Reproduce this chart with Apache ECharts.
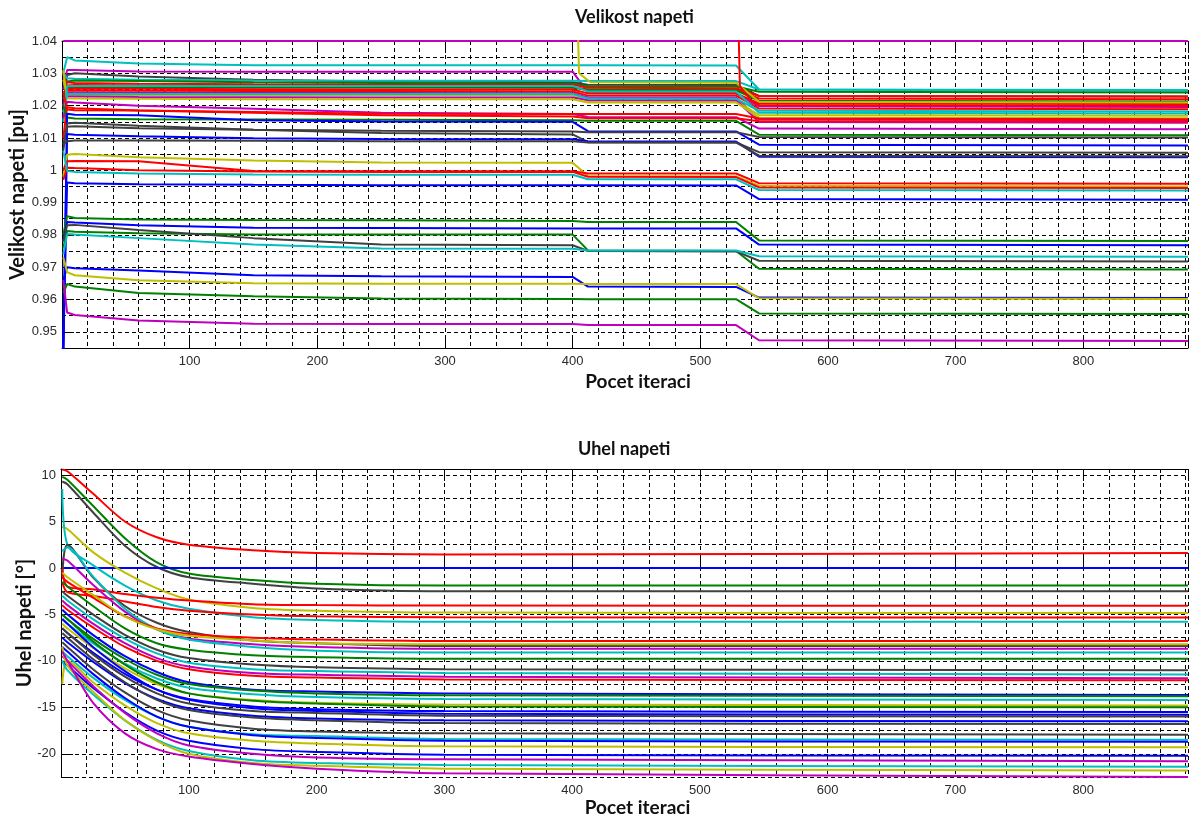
<!DOCTYPE html>
<html>
<head>
<meta charset="utf-8">
<script src="https://cdn.jsdelivr.net/npm/echarts@6/dist/echarts.min.js"></script>
<style>
  html, body { margin: 0; background: #fff; }
  #chart { width: 1191px; height: 820px; }
</style>
</head>
<body>
<div id="chart"></div>
<script>
// iterations where the voltage magnitude curves are sampled
const iterTop = [1, 4, 10, 60, 150, 250, 400, 412, 528, 546, 882];
// iterations where the voltage angle curves are sampled
const iterBottom = [1, 5, 25, 50, 75, 100, 150, 200, 300, 882];

// voltage magnitude [pu], one row per bus
const magnitude = [
  [1.04, 1.04, 1.04, 1.04, 1.04, 1.04, 1.04, 1.04, 1.04, 1.04, 1.04],
  [1.030, 1.035, 1.034, 1.033, 1.0325, 1.0325, 1.0325, 1.0325, 1.0324, 1.0250, 1.0248],
  [1.025, 1.031, 1.0310, 1.0306, 1.0305, 1.0305, 1.0305, 1.0240, 1.0238, 1.0198, 1.0196],
  [1.020, 1.0295, 1.0300, 1.0290, 1.0280, 1.0275, 1.0272, 1.0265, 1.0264, 1.0230, 1.0228],
  [1.030, 1.0285, 1.0283, 1.0280, 1.0278, 1.0277, 1.0277, 1.0276, 1.0276, 1.0250, 1.0246],
  [1.022, 1.0275, 1.0278, 1.0276, 1.0272, 1.0270, 1.0268, 1.0260, 1.0259, 1.0243, 1.0241],
  [1.028, 1.0272, 1.0270, 1.0268, 1.0266, 1.0265, 1.0265, 1.0255, 1.0254, 1.0230, 1.0228],
  [1.018, 1.0262, 1.0264, 1.0262, 1.0260, 1.0259, 1.0258, 1.0250, 1.0250, 1.0222, 1.0220],
  [1.026, 1.0258, 1.0258, 1.0257, 1.0256, 1.0256, 1.0255, 1.0248, 1.0247, 1.0215, 1.0213],
  [1.024, 1.0252, 1.0253, 1.0252, 1.0251, 1.0250, 1.0250, 1.0238, 1.0238, 1.0207, 1.0205],
  [1.030, 1.0246, 1.0247, 1.0246, 1.0245, 1.0245, 1.0244, 1.0231, 1.0231, 1.0191, 1.0189],
  [1.022, 1.0240, 1.0240, 1.0240, 1.0239, 1.0239, 1.0238, 1.0225, 1.0225, 1.0157, 1.0155],
  [1.028, 1.0232, 1.0233, 1.0233, 1.0232, 1.0232, 1.0231, 1.0215, 1.0214, 1.0171, 1.0169],
  [1.020, 1.0228, 1.0228, 1.0227, 1.0226, 1.0225, 1.0225, 1.0217, 1.0217, 1.0149, 1.0147],
  [1.031, 1.0222, 1.0222, 1.0221, 1.0220, 1.0220, 1.0220, 1.0210, 1.0210, 1.0163, 1.0161],
  [1.018, 1.0235, 1.0237, 1.0236, 1.0236, 1.0236, 1.0236, 1.0222, 1.0222, 1.0184, 1.0182],
  [1.015, 1.0260, 1.0261, 1.0261, 1.0261, 1.0261, 1.0261, 1.0244, 1.0244, 1.0178, 1.0176],
  [1.016, 1.0212, 1.0210, 1.0200, 1.0190, 1.0178, 1.0174, 1.0165, 1.0164, 1.0129, 1.0127],
  [1.024, 1.0188, 1.0186, 1.0185, 1.0180, 1.0175, 1.0174, 1.0174, 1.0174, 1.0160, 1.0158],
  [1.010, 1.0195, 1.0192, 1.0185, 1.0178, 1.0170, 1.0166, 1.0161, 1.0161, 1.0152, 1.0150],
  [1.020, 1.0163, 1.0160, 1.0158, 1.0157, 1.0156, 1.0155, 1.0153, 1.0153, 1.0110, 1.0108],
  [0.944, 1.0175, 1.0172, 1.0170, 1.0155, 1.0151, 1.0150, 1.0121, 1.0120, 1.0079, 1.0077],
  [1.006, 1.0145, 1.0147, 1.0138, 1.0125, 1.0115, 1.0111, 1.0087, 1.0086, 1.0056, 1.0054],
  [1.008, 1.0135, 1.0136, 1.0130, 1.0125, 1.0122, 1.0120, 1.0118, 1.0118, 1.0103, 1.0101],
  [0.944, 1.0112, 1.0110, 1.0105, 1.0099, 1.0097, 1.0096, 1.0090, 1.0089, 1.0042, 1.0040],
  [1.008, 1.0090, 1.0092, 1.0092, 1.0091, 1.0090, 1.0090, 1.0086, 1.0086, 1.0045, 1.0043],
  [0.998, 1.0048, 1.0050, 1.0040, 1.0030, 1.0024, 1.0023, 0.9982, 0.9981, 0.9952, 0.9950],
  [1.000, 1.0028, 1.0029, 1.0028, 0.9998, 0.9997, 0.9997, 0.9990, 0.9990, 0.9960, 0.9958],
  [0.997, 1.0008, 1.0007, 1.0000, 0.9996, 0.9995, 0.9995, 0.9980, 0.9979, 0.9947, 0.9945],
  [1.006, 0.9998, 0.9995, 0.9990, 0.9987, 0.9986, 0.9986, 0.9972, 0.9972, 0.9939, 0.9937],
  [0.944, 0.9962, 0.9960, 0.9957, 0.9955, 0.9954, 0.9954, 0.9954, 0.9953, 0.9911, 0.9909],
  [0.980, 0.9858, 0.9852, 0.9848, 0.9846, 0.9845, 0.9843, 0.9840, 0.9840, 0.9783, 0.9781],
  [0.978, 0.9840, 0.9838, 0.9830, 0.9822, 0.9821, 0.9820, 0.9820, 0.9820, 0.9770, 0.9768],
  [0.976, 0.9812, 0.9810, 0.9805, 0.9801, 0.9801, 0.9801, 0.9752, 0.9750, 0.9695, 0.9693],
  [0.978, 0.9830, 0.9831, 0.9815, 0.9790, 0.9770, 0.9768, 0.9750, 0.9749, 0.9720, 0.9718],
  [0.974, 0.9803, 0.9801, 0.9790, 0.9770, 0.9758, 0.9757, 0.9752, 0.9752, 0.9734, 0.9732],
  [0.966, 0.9700, 0.9697, 0.9690, 0.9675, 0.9672, 0.9670, 0.9640, 0.9639, 0.9606, 0.9605],
  [0.973, 0.9685, 0.9675, 0.9660, 0.9650, 0.9649, 0.9649, 0.9648, 0.9648, 0.9604, 0.9602],
  [0.962, 0.9648, 0.9640, 0.9620, 0.9610, 0.9603, 0.9602, 0.9601, 0.9601, 0.9557, 0.9555],
  [0.966, 0.9560, 0.9552, 0.9535, 0.9525, 0.9524, 0.9524, 0.9521, 0.9521, 0.9474, 0.9472]
];
const magnitudeColors = ['m', 'c', 'm', 'k', 'c', 'g', 'r', 'r', 'g', 'r', 'r', 'm', 'y', 'm', 'y', 'c',
  'c', 'm', 'r', 'r', 'g', 'b', 'k', 'k', 'b', 'k', 'y', 'r', 'r', 'c', 'b', 'g', 'b', 'g', 'k', 'c',
  'b', 'y', 'g', 'm'];

// two buses that come into the plotted range from above during the run
const spikeYellowIter = [1, 403, 405, 414, 528, 546, 882];
const spikeYellow = [1.06, 1.06, 1.030, 1.0272, 1.0271, 1.0212, 1.0210];
const spikeRedIter = [1, 529, 531, 540, 546, 882];
const spikeRed = [1.06, 1.06, 1.026, 1.0215, 1.0202, 1.0200];

// voltage angle [deg], one row per bus
const angle = [
  [10.6, 10.4, 8.0, 5.0, 3.3, 2.5, 1.9, 1.6, 1.45, 1.6],
  [9.8, 9.5, 6.7, 3.2, 0.6, -0.6, -1.3, -1.7, -1.9, -1.9],
  [9.3, 9.0, 6.0, 2.4, 0.1, -1.0, -1.7, -2.2, -2.5, -2.5],
  [0, 0, 0, 0, 0, 0, 0, 0, 0, 0],
  [4.4, 4.2, 1.7, -0.5, -2.2, -3.4, -4.3, -4.6, -4.8, -4.85],
  [8.5, 2.5, 0.3, -1.9, -3.5, -4.4, -5.3, -5.6, -5.8, -5.8],
  [-1.0, 2.5, -1.0, -4.1, -5.9, -6.9, -7.8, -8.1, -8.4, -8.4],
  [-0.1, -2.0, -2.3, -2.8, -3.2, -3.5, -3.9, -4.0, -4.05, -4.07],
  [-1.5, -2.6, -3.0, -3.6, -4.2, -4.6, -5.0, -5.2, -5.3, -5.33],
  [1.0, 0.8, -1.8, -4.7, -6.6, -7.6, -8.2, -8.5, -8.7, -8.7],
  [1.8, 2.2, -0.9, -4.4, -6.6, -7.7, -8.5, -8.9, -9.1, -9.1],
  [-1.0, -1.5, -3.2, -5.2, -6.5, -7.1, -7.5, -7.7, -7.86, -7.86],
  [-0.5, -1.0, -2.9, -5.2, -6.6, -7.3, -7.8, -8.1, -8.2, -8.2],
  [-1.5, -2.0, -4.1, -6.5, -8.1, -8.8, -9.4, -9.6, -9.77, -9.77],
  [-2.5, -3.0, -5.0, -7.2, -8.8, -9.7, -10.4, -10.7, -10.9, -11.0],
  [-3.0, -3.5, -5.5, -7.6, -9.2, -10.2, -10.9, -11.1, -11.3, -11.46],
  [-3.5, -4.0, -6.0, -8.1, -9.7, -10.6, -11.3, -11.5, -11.7, -11.86],
  [-4.0, -4.5, -6.4, -8.5, -10.0, -10.9, -11.6, -11.8, -12.0, -12.1],
  [-4.5, -5.0, -7.2, -9.5, -11.2, -12.3, -13.1, -13.3, -13.5, -13.67],
  [-5.0, -5.5, -7.6, -9.8, -11.5, -12.5, -13.2, -13.5, -13.7, -13.8],
  [-5.5, -6.0, -8.1, -10.3, -11.9, -12.9, -13.6, -13.9, -14.1, -14.2],
  [-6.0, -6.5, -8.6, -10.8, -12.5, -13.5, -14.2, -14.5, -14.7, -14.8],
  [-5.0, -5.5, -7.9, -10.4, -12.3, -13.5, -14.3, -14.6, -14.9, -15.0],
  [-6.5, -7.0, -9.1, -11.4, -13.1, -14.1, -14.9, -15.2, -15.4, -15.5],
  [-5.5, -6.0, -8.5, -11.1, -13.1, -14.2, -15.1, -15.4, -15.7, -15.8],
  [-6.5, -7.0, -9.3, -11.7, -13.5, -14.6, -15.4, -15.6, -15.9, -16.0],
  [-7.5, -8.0, -10.1, -12.4, -14.1, -15.1, -15.9, -16.2, -16.4, -16.5],
  [-7.0, -7.5, -9.8, -12.3, -14.2, -15.3, -16.1, -16.4, -16.7, -16.8],
  [-8.0, -8.5, -10.9, -13.4, -15.3, -16.4, -17.3, -17.6, -17.8, -17.95],
  [-9.0, -9.5, -11.8, -14.2, -16.0, -17.1, -17.9, -18.1, -18.4, -18.5],
  [-8.5, -9.0, -11.4, -14.0, -16.0, -17.1, -18.0, -18.3, -18.6, -18.7],
  [-12.5, -10.0, -12.3, -14.8, -16.7, -17.8, -18.6, -18.9, -19.2, -19.3],
  [-10.0, -10.5, -12.9, -15.5, -17.5, -18.6, -19.5, -19.8, -20.1, -20.2],
  [-9.5, -10.0, -12.7, -15.6, -17.8, -19.1, -20.0, -20.4, -20.6, -20.8],
  [-10.0, -11.0, -13.6, -16.4, -18.5, -19.7, -20.7, -21.0, -21.2, -21.4],
  [-8.5, -10.5, -13.3, -16.4, -18.6, -20.0, -21.0, -21.3, -21.6, -21.8],
  [-9.0, -10.0, -14.5, -17.8, -19.5, -20.3, -21.1, -21.6, -22.1, -22.5]
];
const angleColors = ['r', 'g', 'k', 'b', 'y', 'c', 'k', 'r', 'r', 'm', 'c', 'r', 'y', 'g', 'k', 'c',
  'm', 'r', 'b', 'g', 'c', 'y', 'g', 'b', 'b', 'k', 'b', 'k', 'k', 'c', 'b', 'y', 'b', 'm', 'c', 'y', 'm'];

const palette = {
  b: '#0000ff', g: '#008000', r: '#ff0000', c: '#00bfbf',
  m: '#bf00bf', y: '#bfbf00', k: '#404040'
};

const chart = echarts.init(document.getElementById('chart'));

const labelFont = { fontFamily: 'Liberation Sans, Arial, sans-serif', fontSize: 13, color: '#2b2b2b' };
const nameFont = { fontFamily: 'Lato', fontWeight: 'bold', fontSize: 20, color: '#111' };
const dashed = { show: true, lineStyle: { color: '#000', width: 1, type: [4, 3] } };
const blackLine = { show: true, lineStyle: { color: '#000', width: 1 } };

function xAxesFor(grid, nameGap) {
  return [
    { gridIndex: grid, type: 'value', min: 0, max: 882, interval: 20,
      axisLine: blackLine, axisTick: { show: false }, axisLabel: { show: false },
      splitLine: dashed },
    { gridIndex: grid, type: 'value', position: 'bottom', min: 0, max: 882, interval: 100,
      axisLine: { show: false },
      axisTick: { show: true, inside: true, length: 12, lineStyle: { color: '#000' } },
      axisLabel: Object.assign({ margin: 7, formatter: v => (v > 0 && v % 100 === 0 ? String(v) : '') }, labelFont),
      splitLine: { show: false },
      name: 'Pocet iteraci', nameLocation: 'middle', nameGap: nameGap, nameMoveOverlap: false,
      nameTextStyle: Object.assign({ padding: [0, 0, 0, 26] }, nameFont, { fontSize: 19 }) },
    { gridIndex: grid, type: 'value', position: 'top', min: 0, max: 882, interval: 100,
      axisLine: blackLine,
      axisTick: { show: true, inside: true, length: 12, lineStyle: { color: '#000' } },
      axisLabel: { show: false }, splitLine: { show: false } }
  ];
}

const option = {
  animation: false,
  grid: [
    { left: 61, right: 0, top: 41, height: 307 },
    { left: 61, right: 0, top: 469, height: 308 }
  ],
  xAxis: xAxesFor(0, 24).concat(xAxesFor(1, 21)),
  yAxis: [
    { gridIndex: 0, type: 'value', min: 0.945, max: 1.04, interval: 0.005,
      axisLine: blackLine, axisTick: { show: false }, axisLabel: { show: false }, splitLine: dashed },
    { gridIndex: 0, type: 'value', position: 'left', min: 0.945, max: 1.04, splitNumber: 10,
      axisLine: { show: false },
      axisTick: { show: true, inside: true, length: 12, lineStyle: { color: '#000' } },
      axisLabel: Object.assign({ margin: 5, formatter: v => {
        const r = Math.round(v * 100);
        return Math.abs(v * 100 - r) < 1e-6 ? String(r / 100) : '';
      } }, labelFont),
      splitLine: { show: false },
      name: 'Velikost napeti [pu]', nameLocation: 'middle', nameGap: 34, nameMoveOverlap: false,
      nameTextStyle: nameFont },
    { gridIndex: 1, type: 'value', min: -22.5, max: 10.65, interval: 2.5,
      axisLine: blackLine, axisTick: { show: false }, axisLabel: { show: false }, splitLine: dashed },
    { gridIndex: 1, type: 'value', position: 'left', min: -22.5, max: 10.65, splitNumber: 7,
      axisLine: { show: false },
      axisTick: { show: true, inside: true, length: 12, lineStyle: { color: '#000' } },
      axisLabel: Object.assign({ margin: 5, formatter: v => (Math.abs(v % 5) < 1e-6 ? String(v) : '') }, labelFont),
      splitLine: { show: false },
      name: 'Uhel napeti [°]', nameLocation: 'middle', nameGap: 26, nameMoveOverlap: false,
      nameTextStyle: nameFont }
  ],
  graphic: [
    { type: 'text', left: 575, top: 8,
      style: { text: 'Velikost napeti', font: 'bold 18px Lato', fill: '#111' } },
    { type: 'text', left: 578, top: 440,
      style: { text: 'Uhel napeti', font: 'bold 18px Lato', fill: '#111' } }
  ],
  series: []
};

function addTop(iters, vals, color) {
  option.series.push({
    type: 'line', xAxisIndex: 0, yAxisIndex: 0, showSymbol: false, silent: true,
    data: iters.map((x, j) => [x, vals[j]]),
    lineStyle: { width: 2, color: color }
  });
}

magnitude.forEach((vals, i) => addTop(iterTop, vals, palette[magnitudeColors[i]]));
addTop(spikeYellowIter, spikeYellow, palette.y);
addTop(spikeRedIter, spikeRed, palette.r);

angle.forEach((vals, i) => {
  option.series.push({
    type: 'line', xAxisIndex: 3, yAxisIndex: 2, showSymbol: false, silent: true,
    smooth: 0.3,
    data: iterBottom.map((x, j) => [x, vals[j]]),
    lineStyle: { width: 2, color: palette[angleColors[i]] }
  });
});

chart.setOption(option);
</script>
</body>
</html>
